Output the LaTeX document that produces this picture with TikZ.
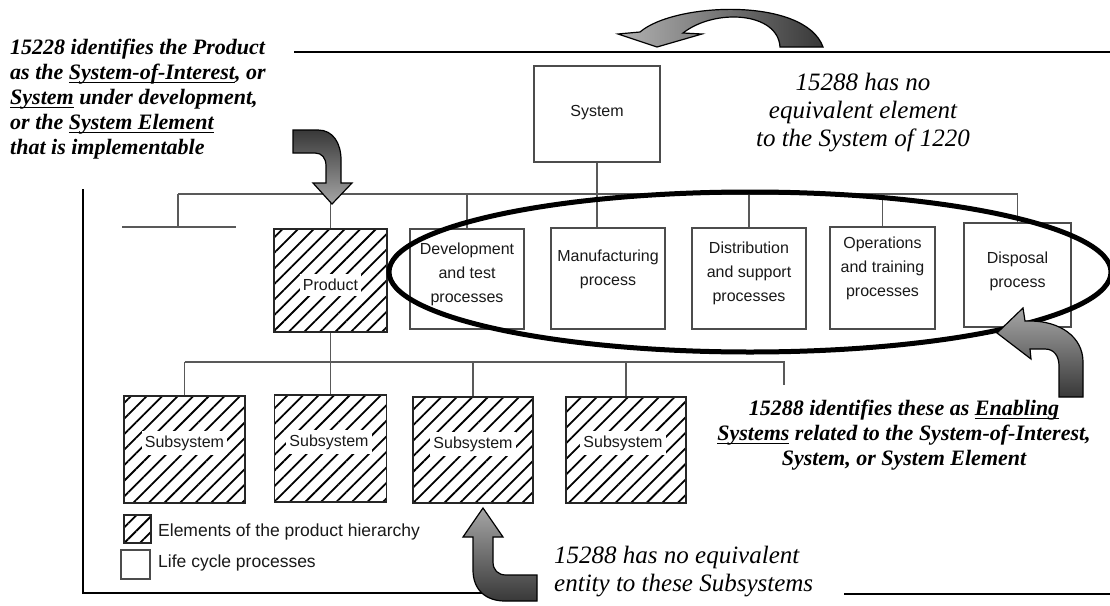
\documentclass[tikz,border=0pt]{standalone}
\usepackage{fontspec}
\setmainfont{Liberation Serif}
\newfontfamily\sansf{Liberation Sans}
\usetikzlibrary{patterns.meta}
\newsavebox\ulbox
\newcommand\undl[1]{\sbox\ulbox{#1}\rlap{\rule[-3.2pt]{\wd\ulbox}{1.3pt}}\usebox\ulbox}
\tikzset{
 frame/.style={line width=2.2pt, black},
 tree/.style={line width=1.3pt, black!65},
 procbox/.style={draw=black!70, line width=1.3pt, fill=white, inner sep=0pt},
 hatchbox/.style={draw=black!85, line width=1.4pt, pattern={Lines[angle=45,distance=11pt,line width=1.8pt]}, inner sep=0pt},
 boxtext/.style={font=\sansf\fontsize{16}{24}\selectfont, align=center, text=black!90, inner sep=0pt},
 hatchtext/.style={font=\sansf\fontsize{16}{24}\selectfont, fill=white, inner xsep=3pt, inner ysep=5pt, text=black!90},
 legtext/.style={font=\sansf\fontsize{17.5}{22}\selectfont, anchor=west, inner sep=0pt, text=black!90},
 bnote/.style={font=\fontsize{22}{25}\selectfont\bfseries\itshape, inner sep=0pt},
 inote/.style={font=\fontsize{25}{28}\selectfont\itshape, inner sep=0pt},
 ring/.style={line width=5pt, black},
 blockarrow/.style={draw=black, line width=1.2pt},
}
\begin{document}
\begin{tikzpicture}[x=1pt,y=-1pt]
\fill[white] (0,0) rectangle (1110,605);
\useasboundingbox (0,0) rectangle (1110,605);

% frame lines
\coordinate (fTL) at (294,52);
\coordinate (fTR) at (1110,52);
\coordinate (fL1) at (83,189);
\coordinate (fL2) at (83,593);
\coordinate (fB1) at (490,593);
\coordinate (fR1) at (844,594);
\coordinate (fR2) at (1110,594);
\draw[frame] (fTL) -- (fTR);
\draw[frame] (fL1) -- (fL2) -- (fB1);
\draw[frame] (fR1) -- (fR2);

% boxes
\node[procbox, minimum width=126pt, minimum height=96pt] (sys) at (597,114) {};
\node[hatchbox, minimum width=113pt, minimum height=103pt] (prod) at (330.5,280.5) {};
\node[procbox, minimum width=114pt, minimum height=100pt] (dev) at (467,279) {};
\node[procbox, minimum width=114pt, minimum height=101pt] (manu) at (608,278.5) {};
\node[procbox, minimum width=114pt, minimum height=101pt] (dist) at (749,278.5) {};
\node[procbox, minimum width=105pt, minimum height=102pt] (ops) at (882.5,278) {};
\node[procbox, minimum width=107pt, minimum height=104pt] (disp) at (1017.5,275) {};
\node[hatchbox, minimum width=121pt, minimum height=107pt] (sub1) at (184.5,449.5) {};
\node[hatchbox, minimum width=112pt, minimum height=107pt] (sub2) at (330.5,448.5) {};
\node[hatchbox, minimum width=120pt, minimum height=106pt] (sub3) at (473,450) {};
\node[hatchbox, minimum width=120pt, minimum height=106pt] (sub4) at (626,450) {};
\node[hatchbox, minimum width=27pt, minimum height=28pt] (leg1) at (137.5,529) {};
\node[procbox, minimum width=29pt, minimum height=29pt] (leg2) at (135.5,564.5) {};

% box texts
\node[boxtext] (sysT) at (597,113) {System};
\node[hatchtext] (prodT) at (330.5,285) {Product};
\node[boxtext] (devT) at (467,274) {Development\\and test\\processes};
\node[boxtext] (manuT) at (608,269) {Manufacturing\\process};
\node[boxtext] (distT) at (749,273) {Distribution\\and support\\processes};
\node[boxtext] (opsT) at (882.5,268) {Operations\\and training\\processes};
\node[boxtext] (dispT) at (1017.5,271) {Disposal\\process};
\node[hatchtext] (sub1T) at (184.5,443) {Subsystem};
\node[hatchtext] (sub2T) at (329,442) {Subsystem};
\node[hatchtext] (sub3T) at (473,444) {Subsystem};
\node[hatchtext] (sub4T) at (623,443) {Subsystem};
\node[legtext] (leg1T) at (158,532) {Elements of the product hierarchy};
\node[legtext] (leg2T) at (158,563) {Life cycle processes};

% upper tree
\coordinate (busU) at (0,194);
\coordinate (uL) at (178,194);
\coordinate (uR) at (disp.north |- busU);
\coordinate (stubTop) at (178,227);
\coordinate (stubA) at (122,227);
\coordinate (stubB) at (236,227);
\draw[tree] (uL) -- (uR);
\draw[tree] (sys.south) -- (manu.north -| sys.south);
\draw[tree] (uL) -- (stubTop);
\draw[tree] (stubA) -- (stubB);
\foreach \b in {prod,dev,dist,ops,disp}
  \draw[tree] (\b.north) -- (\b.north |- busU);

% lower tree
\coordinate (busL) at (0,362);
\coordinate (lL) at (sub1.north |- busL);
\coordinate (lR) at (784,362);
\coordinate (lRend) at (784,385);
\draw[tree] (lL) -- (lR) -- (lRend);
\draw[tree] (prod.south) -- (sub2.north);
\foreach \b in {sub1,sub3,sub4}
  \draw[tree] (\b.north) -- (\b.north |- busL);

% ellipse
\draw[ring] (750,272) ellipse [x radius=361pt, y radius=80pt];

% block arrows
\shadedraw[blockarrow, left color=black!30, right color=black!78]
  (823,47) .. controls (805,-3) and (675,2) .. (640,32)
  -- (618,34) -- (657,47) -- (702,34) -- (683,33)
  .. controls (715,8) and (778,12) .. (780,47) -- cycle;
\shadedraw[blockarrow, top color=black!78, bottom color=black!35]
  (293,130) -- (318,130) .. controls (333,130) and (341,143) .. (341,160)
  -- (341,183) -- (352,183) -- (332,204) -- (313,183) -- (326,183)
  -- (326,166) .. controls (326,158) and (322,153) .. (315,153)
  -- (293,153) -- cycle;
\shadedraw[blockarrow, top color=black!35, bottom color=black!78]
  (1083,397) -- (1083,362) .. controls (1083,337) and (1060,321) .. (1030,321)
  -- (1025,321) -- (1023,308) -- (997,333) -- (1031,359) -- (1030,349)
  -- (1045,349) .. controls (1054,349) and (1059,356) .. (1059,366)
  -- (1059,397) -- cycle;
\shadedraw[blockarrow, top color=black!35, bottom color=black!78]
  (483,508) -- (503,537) -- (493,537) -- (493,562)
  .. controls (493,570) and (498,575) .. (506,575)
  -- (537,575) -- (537,601) -- (505,601)
  .. controls (486,601) and (473,590) .. (473,570)
  -- (473,537) -- (463,537) -- cycle;

% notes
\node[bnote, anchor=north west, align=left] (noteA) at (10,39)
  {15228 identifies the Product\\
   as the \undl{System-of-Interest}, or\\
   \undl{System} under development,\\
   or the \undl{System Element}\\
   that is implementable};
\node[inote, anchor=north, align=center] (noteB) at (863,73)
  {15288 has no\\ equivalent element\\ to the System of 1220};
\node[bnote, anchor=north, align=center] (noteC) at (904,400)
  {15288 identifies these as \undl{Enabling}\\
   \undl{Systems} related to the System-of-Interest,\\
   System, or System Element};
\node[inote, anchor=north west, align=left] (noteD) at (554,546)
  {15288 has no equivalent\\ entity to these Subsystems};
\end{tikzpicture}
\end{document}
